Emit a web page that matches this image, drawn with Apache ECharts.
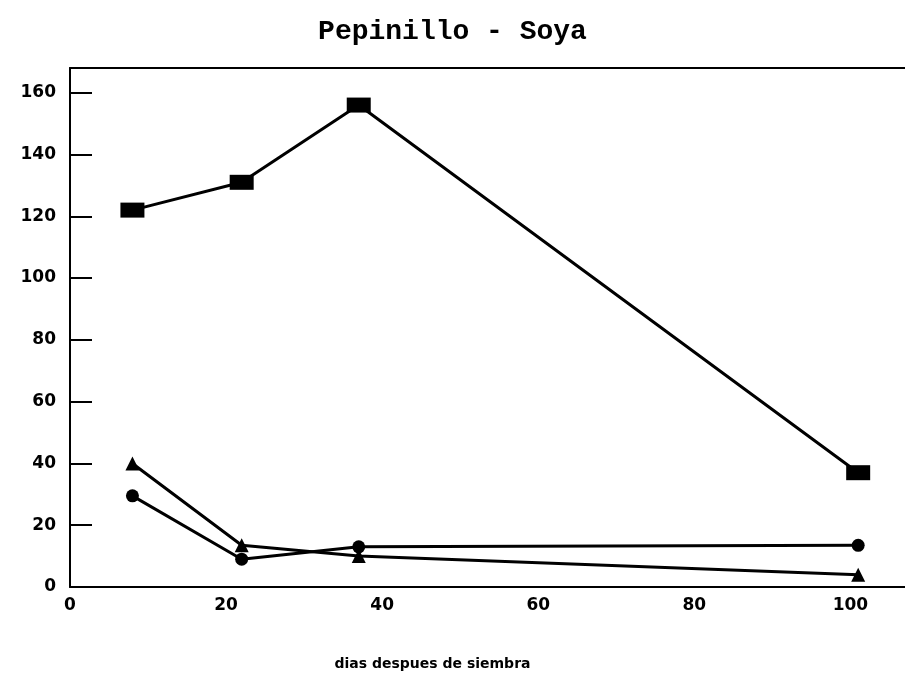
<!DOCTYPE html>
<html>
<head>
<meta charset="utf-8">
<script src="https://cdn.jsdelivr.net/npm/echarts@6/dist/echarts.min.js"></script>
<style>
html,body{margin:0;padding:0;background:#fff;}
#chart{width:905px;height:683px;}
</style>
</head>
<body>
<div id="chart"></div>
<script>
var titleText = 'Pepinillo - Soya';
var xAxisName = 'dias despues de siembra';
var days = [8, 22, 37, 101];
var squareValues = [122, 131, 156, 37];
var triangleValues = [40, 13.5, 10, 4];
var circleValues = [29.5, 9, 13, 13.5];
var yTicks = [0, 20, 40, 60, 80, 100, 120, 140, 160];
var xTicks = [0, 20, 40, 60, 80, 100];

function pairs(xs, ys) { return xs.map(function (x, i) { return [x, ys[i]]; }); }

var chart = echarts.init(document.getElementById('chart'));
var lineBase = { type: 'line', color: '#000', lineStyle: { color: '#000', width: 3 }, itemStyle: { color: '#000' }, animation: false, z: 3 };
var X_MAX = 107;

chart.setOption({
  backgroundColor: '#fff',
  title: {
    text: titleText, left: 'center', top: 13,
    textStyle: { fontFamily: 'Liberation Mono', fontWeight: 'bold', fontSize: 28, color: '#000' }
  },
  grid: { left: 70, right: 0, top: 68, bottom: 96 },
  xAxis: [{
    type: 'value', min: 0, max: X_MAX,
    axisLine: { show: true, lineStyle: { color: '#000', width: 2 } },
    axisTick: { show: false },
    splitLine: { show: false },
    axisLabel: { customValues: xTicks, color: '#000', fontFamily: 'DejaVu Sans', fontWeight: 'bold', fontSize: 17, margin: 10 },
    name: xAxisName, nameLocation: 'middle', nameGap: 70,
    nameTextStyle: { color: '#000', fontFamily: 'DejaVu Sans', fontWeight: 'bold', fontSize: 14, padding: [0, 110, 0, 0] }
  }, {
    type: 'value', position: 'top', min: 0, max: X_MAX,
    axisLine: { show: true, lineStyle: { color: '#000', width: 2 } },
    axisTick: { show: false }, axisLabel: { show: false }, splitLine: { show: false }
  }],
  yAxis: {
    type: 'value', min: 0, max: 168,
    axisLine: { show: true, lineStyle: { color: '#000', width: 2 } },
    axisTick: { show: true, inside: true, length: 22, customValues: yTicks, lineStyle: { color: '#000', width: 2 } },
    splitLine: { show: false },
    axisLabel: { customValues: yTicks, color: '#000', fontFamily: 'DejaVu Sans', fontWeight: 'bold', fontSize: 17, margin: 14 }
  },
  series: [
    Object.assign({}, lineBase, { name: 'cuadrado', data: pairs(days, squareValues), symbol: 'rect', symbolSize: [24, 15] }),
    Object.assign({}, lineBase, { name: 'triangulo', data: pairs(days, triangleValues), symbol: 'triangle', symbolSize: 14 }),
    Object.assign({}, lineBase, { name: 'circulo', data: pairs(days, circleValues), symbol: 'circle', symbolSize: 13 })
  ]
});
</script>
</body>
</html>
